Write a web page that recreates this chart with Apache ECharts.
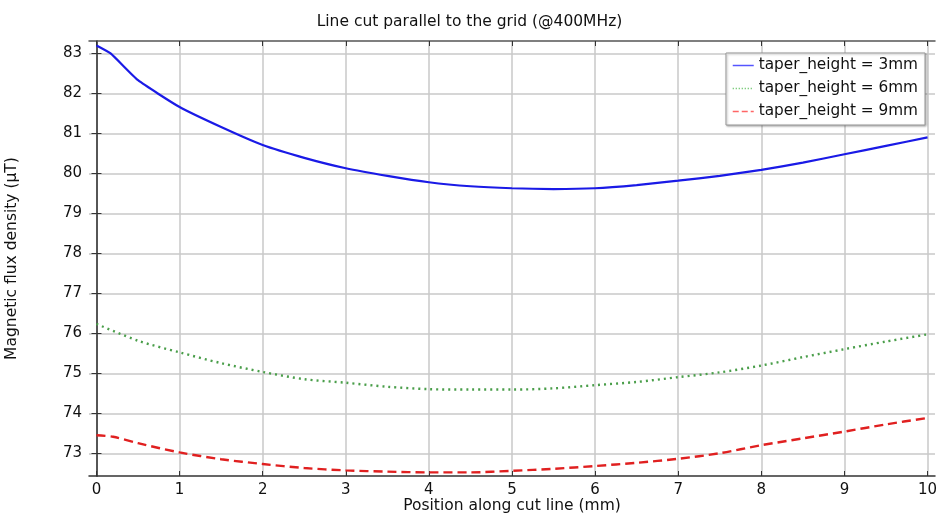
<!DOCTYPE html>
<html><head><meta charset="utf-8">
<script src="https://cdn.jsdelivr.net/npm/echarts@6/dist/echarts.min.js"></script>
<style>html,body{margin:0;padding:0;background:#fff}#c{width:939px;height:515px}</style>
</head><body><div id="c"></div>
<script>
const title = 'Line cut parallel to the grid (@400MHz)';
const xName = 'Position along cut line (mm)';
const yName = 'Magnetic flux density (µT)';
const seriesNames = ['taper_height = 3mm', 'taper_height = 6mm', 'taper_height = 9mm'];
const xTicks = [0,1,2,3,4,5,6,7,8,9,10];
const yTicks = [73,74,75,76,77,78,79,80,81,82,83];

const xBlue = [0,0.17,0.5,1,1.5,2,2.5,3,3.5,4,4.5,5,5.5,6,6.5,7,7.5,8,8.5,9,9.5,10];
const yBlue = [83.2,83.0,82.33,81.66,81.16,80.71,80.39,80.13,79.94,79.78,79.68,79.63,79.61,79.63,79.71,79.82,79.94,80.09,80.27,80.48,80.69,80.9];
const xGreen = [0,0.5,1,1.5,2,2.5,3,3.5,4,4.5,5,5.5,6,6.5,7,7.5,8,8.5,9,9.5,10];
const yGreen = [76.24,75.82,75.53,75.26,75.04,74.86,74.77,74.67,74.61,74.6,74.6,74.63,74.71,74.79,74.91,75.03,75.2,75.41,75.61,75.8,75.98];
const xRed = [0,0.2,0.5,1,1.5,2,2.5,3,3.5,4,4.5,5,5.5,6,6.5,7,7.5,8,8.5,9,9.5,10];
const yRed = [73.46,73.42,73.26,73.03,72.86,72.74,72.64,72.58,72.55,72.53,72.53,72.57,72.62,72.69,72.77,72.87,73.01,73.21,73.38,73.55,73.73,73.89];

const zip = (xs, ys) => xs.map((x, i) => [x, ys[i]]);
const font = 'DejaVu Sans';
const chart = echarts.init(document.getElementById('c'), null, {renderer: 'canvas'});
const baseAxisX = {
  type: 'value', min: -0.09, max: 10.09,
  axisLine: {show: true, lineStyle: {color: '#333', width: 1.5}},
};
const baseAxisY = {
  type: 'value', min: 72.44, max: 83.31,
  axisLine: {show: true, lineStyle: {color: '#333', width: 1.5}},
};
const hiddenSym = {opacity: 0, color: 'rgba(0,0,0,0)', borderWidth: 0};
chart.setOption({
  animation: false,
  backgroundColor: '#fff',
  title: {text: title, left: 'center', top: 9, textStyle: {fontFamily: font, fontSize: 15.5, fontWeight: 'normal', color: '#111'}},
  grid: {left: 89, right: 4, top: 41, bottom: 39, containLabel: false, outerBoundsMode: 'none'},
  legend: {
    show: true,
    right: 14, top: 53, orient: 'vertical', itemGap: 8, itemWidth: 21, itemHeight: 14,
    backgroundColor: '#fff', borderColor: '#999', borderWidth: 1, borderRadius: 0,
    padding: [5, 7, 6, 6],
    shadowColor: 'rgba(0,0,0,0.3)', shadowBlur: 2, shadowOffsetX: 1, shadowOffsetY: 1,
    textStyle: {fontFamily: font, fontSize: 15.3, color: '#111'},
    data: [
      {name: seriesNames[0], itemStyle: hiddenSym, lineStyle: {color: '#5555ff', width: 1.5, type: 'solid'}},
      {name: seriesNames[1], itemStyle: hiddenSym, lineStyle: {color: '#55bb55', width: 1.5, type: [1, 2]}},
      {name: seriesNames[2], itemStyle: hiddenSym, lineStyle: {color: '#ff6666', width: 1.5, type: [6, 3]}}
    ]
  },
  xAxis: [
    Object.assign({}, baseAxisX, {
      position: 'bottom',
      name: xName, nameLocation: 'middle', nameGap: 22, nameMoveOverlap: false,
      nameTextStyle: {fontFamily: font, fontSize: 15.5, color: '#111', verticalAlign: 'top'},
      axisTick: {show: true, inside: true, length: 5, customValues: xTicks, lineStyle: {color: '#333'}},
      axisLabel: {show: true, customValues: xTicks, fontFamily: font, fontSize: 15, color: '#111', margin: 7},
      splitLine: {show: true, lineStyle: {color: '#c8c8c8', width: 1.5}}
    }),
    Object.assign({}, baseAxisX, {
      position: 'top',
      axisLine: {show: true, lineStyle: {color: '#555', width: 1.5}},
      axisTick: {show: true, inside: true, length: 5, customValues: xTicks, lineStyle: {color: '#333'}},
      axisLabel: {show: false},
      splitLine: {show: false}
    })
  ],
  yAxis: [
    Object.assign({}, baseAxisY, {
      position: 'left',
      name: yName, nameLocation: 'middle', nameGap: 69, nameRotate: 90, nameMoveOverlap: false,
      nameTextStyle: {fontFamily: font, fontSize: 15.5, color: '#111'},
      axisTick: {show: true, inside: true, length: 5, customValues: yTicks, lineStyle: {color: '#333'}},
      axisLabel: {show: true, customValues: yTicks, fontFamily: font, fontSize: 15, color: '#111', margin: 7},
      splitLine: {show: true, lineStyle: {color: '#c8c8c8', width: 1.5}}
    }),
    Object.assign({}, baseAxisY, {
      position: 'right',
      axisLine: {show: true, lineStyle: {color: '#555', width: 1.5}},
      axisTick: {show: true, inside: true, length: 5, customValues: yTicks, lineStyle: {color: '#333'}},
      axisLabel: {show: false},
      splitLine: {show: false}
    })
  ],
  series: [
    {name: seriesNames[0], type: 'line', xAxisIndex: 0, yAxisIndex: 0, data: zip(xBlue, yBlue), smooth: 0.15, showSymbol: false, symbol: 'none',
     color: '#1a1ae6', lineStyle: {color: '#1a1ae6', width: 2.2, type: 'solid'}},
    {name: seriesNames[1], type: 'line', xAxisIndex: 0, yAxisIndex: 0, data: zip(xGreen, yGreen), smooth: 0.3, showSymbol: false, symbol: 'none',
     color: '#4a9e4a', lineStyle: {color: '#4a9e4a', width: 2.4, type: [2, 4]}},
    {name: seriesNames[2], type: 'line', xAxisIndex: 0, yAxisIndex: 0, data: zip(xRed, yRed), smooth: 0.3, showSymbol: false, symbol: 'none',
     color: '#e02020', lineStyle: {color: '#e02020', width: 2.4, type: [9, 5]}}
  ]
});
</script>
</body></html>
